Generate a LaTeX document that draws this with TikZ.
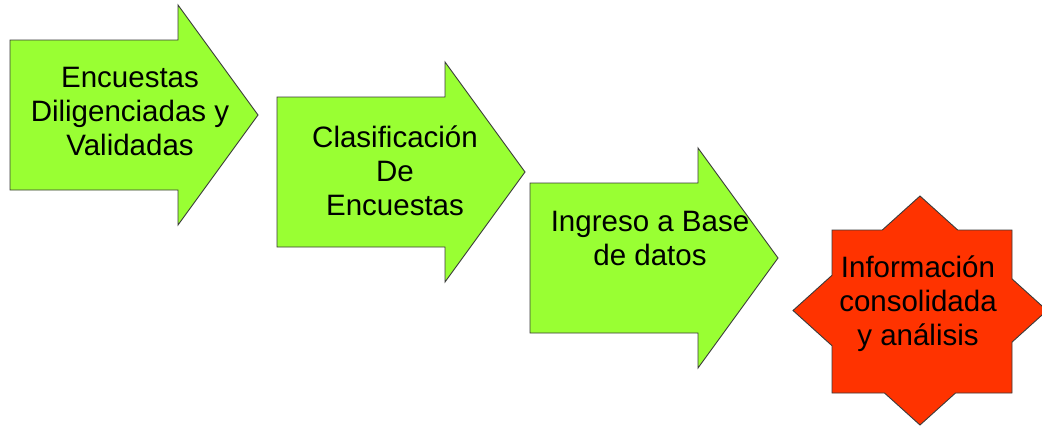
\documentclass[tikz,border=0pt]{standalone}
\usepackage{fontspec}
\setmainfont{Liberation Sans}
\definecolor{arrowgreen}{HTML}{99FF33}
\definecolor{starred}{HTML}{FF3300}
\definecolor{edgegray}{HTML}{3A3A3A}
\newcommand{\mylines}[1]{\begin{tabular}[t]{@{}c@{}}#1\end{tabular}}
\begin{document}
\begin{tikzpicture}[x=1pt,y=-1pt,
  shapestyle/.style={draw=edgegray,line width=0.9pt,line join=miter},
  arrowshape/.style={shapestyle,fill=arrowgreen},
  starshape/.style={shapestyle,fill=starred},
  txt/.style={anchor=base,inner sep=0pt,text=black,font=\fontsize{29.5}{34}\selectfont},
  flowarrow/.pic={\path[arrowshape] (0,0) -- (168,0) -- (168,-35) -- (248,75) -- (168,185) -- (168,150) -- (0,150) -- cycle;}]
\useasboundingbox (0,0) rectangle (1042,426);
% arrows
\pic at (10,40) {flowarrow};
\pic at (277,97) {flowarrow};
\pic at (530,183) {flowarrow};
% star
\begin{scope}
\clip (0,0) rectangle (1042,426);
\path[starshape] (920,196) -- (957.7,230) -- (1012,230) -- (1012,278.9) -- (1047,310.5)
  -- (1012,342.1) -- (1012,393) -- (955.5,393) -- (920,425) -- (884.5,393) -- (832,393)
  -- (832,345.7) -- (793,310.5) -- (832,275.3) -- (832,230) -- (882.3,230) -- cycle;
\end{scope}
% texts
\node[txt] (t1) at (130,87) {\mylines{Encuestas\\Diligenciadas y\\Validadas}};
\node[txt] (t2) at (395,147) {\mylines{Clasificación\\De\\Encuestas}};
\node[txt] (t3) at (650,231) {\mylines{Ingreso a Base\\de datos}};
\node[txt] (t4) at (918,277) {\mylines{Información\\consolidada\\y análisis}};
\end{tikzpicture}
\end{document}
